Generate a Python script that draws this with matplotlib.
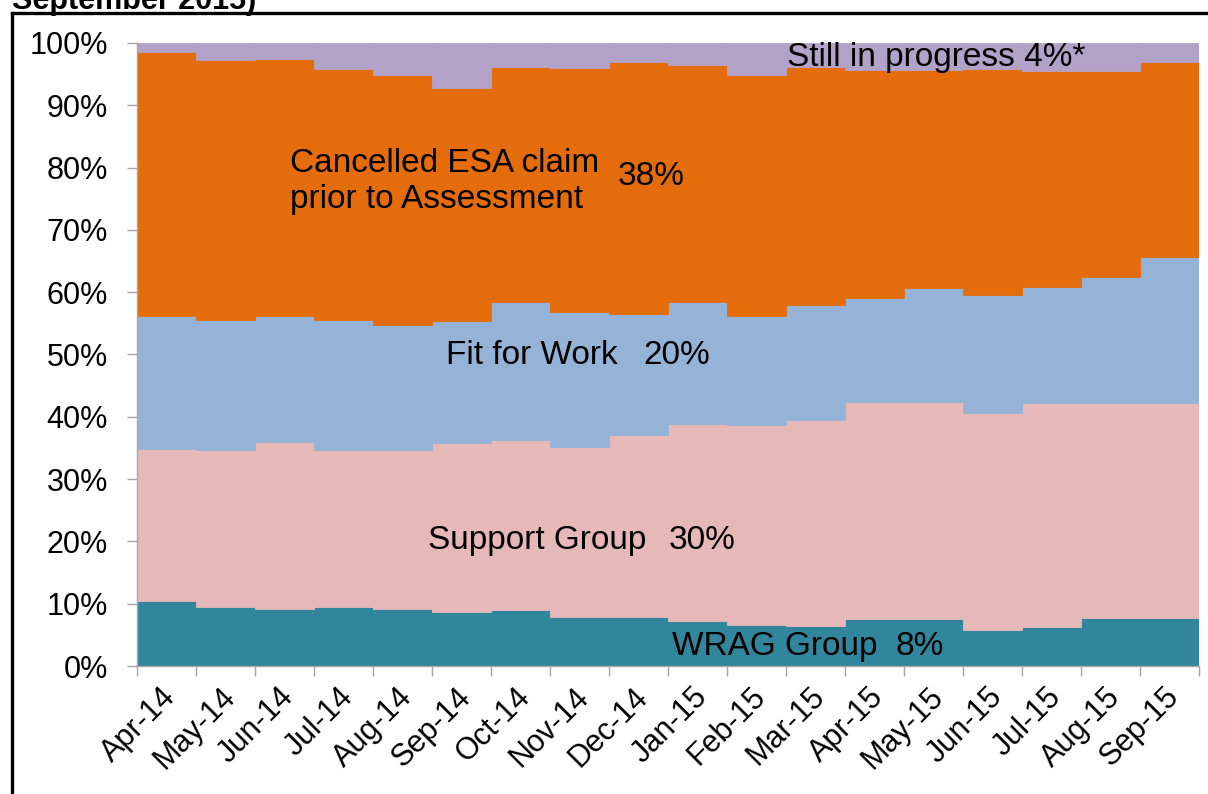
import matplotlib
matplotlib.use("Agg")
import matplotlib.pyplot as plt
from matplotlib.lines import Line2D
from matplotlib.transforms import ScaledTranslation
import numpy as np

plt.rcParams['font.family'] = ['Liberation Sans', 'DejaVu Sans']

# months and shares (%), bottom to top
months = ['Apr-14', 'May-14', 'Jun-14', 'Jul-14', 'Aug-14', 'Sep-14', 'Oct-14',
          'Nov-14', 'Dec-14', 'Jan-15', 'Feb-15', 'Mar-15', 'Apr-15', 'May-15',
          'Jun-15', 'Jul-15', 'Aug-15', 'Sep-15']
wrag = [10.5, 9.5, 9.2, 9.5, 9.2, 8.6, 9.0, 7.9, 7.9, 7.2, 6.6, 6.4, 7.5, 7.5,
        5.7, 6.2, 7.7, 7.7]
support = [24.3, 25.2, 26.7, 25.2, 25.5, 27.2, 27.3, 27.3, 29.1, 31.7, 32.1,
           33.1, 34.9, 34.9, 34.9, 36.0, 34.5, 34.5]
fit_for_work = [21.3, 20.9, 20.2, 20.9, 20.1, 19.6, 22.1, 21.7, 19.5, 19.6,
                17.4, 18.4, 16.6, 18.2, 18.9, 18.7, 20.3, 23.4]
cancelled = [42.5, 41.7, 41.3, 40.3, 40.0, 37.4, 37.7, 39.1, 40.4, 38.0, 38.8,
             38.2, 36.6, 35.0, 36.3, 34.6, 33.0, 31.4]
in_progress = [1.4, 2.7, 2.6, 4.1, 5.2, 7.2, 3.9, 4.0, 3.1, 3.5, 5.1, 3.9, 4.4,
               4.4, 4.2, 4.5, 4.5, 3.0]

series = [wrag, support, fit_for_work, cancelled, in_progress]
colors = ['#31859C', '#E6B9B8', '#95B3D7', '#E46C0A', '#B3A2C7']

GRAY = '#A6A6A6'
FS = 22        # tick labels
FS_ANN = 24    # labels inside the chart

fig = plt.figure(figsize=(12.08, 7.94), dpi=100)
fig.patch.set_facecolor('white')
ax = fig.add_axes([137 / 1208, 1 - 666 / 794, (1199 - 137) / 1208, (666 - 43) / 794])

x = np.arange(len(months))
bottom = np.zeros(len(months))
for vals, col in zip(series, colors):
    vals = np.array(vals)
    ax.bar(x, vals, width=1.0, bottom=bottom, color=col, edgecolor=col,
           linewidth=0.6, zorder=2)
    bottom += vals

ax.set_xlim(-0.5, len(months) - 0.5)
ax.set_ylim(0, 100)

# y axis
ax.set_yticks(np.arange(0, 101, 10))
ax.set_yticklabels([f'{v}%' for v in range(0, 101, 10)], fontsize=FS)
ax.tick_params(axis='y', length=7, width=1, color=GRAY, pad=14)

# x axis: ticks on the boundaries, labels at the centres
ax.set_xticks(x)
ax.set_xticklabels(months, fontsize=FS, rotation=45, ha='right', va='center',
                   rotation_mode='anchor')
ax.set_xticks(np.arange(-0.5, len(months), 1.0), minor=True)
ax.tick_params(axis='x', which='major', length=0, pad=19)
ax.tick_params(axis='x', which='minor', length=7, width=1, color=GRAY)
shift = ScaledTranslation(5 / 100, 0, fig.dpi_scale_trans)
for lbl in ax.get_xticklabels():
    lbl.set_transform(lbl.get_transform() + shift)

for side in ['top', 'right']:
    ax.spines[side].set_visible(False)
for side in ['left', 'bottom']:
    ax.spines[side].set_color(GRAY)
    ax.spines[side].set_linewidth(1)

# in-chart labels
ax.text(10.52, 97.6, 'Still in progress 4%*', fontsize=FS_ANN, va='center', zorder=3)
ax.text(2.09, 77.8, 'Cancelled ESA claim\nprior to Assessment', fontsize=FS_ANN,
        va='center', linespacing=1.2, zorder=3)
ax.text(7.65, 78.5, '38%', fontsize=FS_ANN, va='center', zorder=3)
ax.text(4.74, 49.8, 'Fit for Work', fontsize=FS_ANN, va='center', zorder=3)
ax.text(8.08, 49.8, '20%', fontsize=FS_ANN, va='center', zorder=3)
ax.text(4.43, 20.2, 'Support Group', fontsize=FS_ANN, va='center', zorder=3)
ax.text(8.52, 20.2, '30%', fontsize=FS_ANN, va='center', zorder=3)
ax.text(8.57, 3.2, 'WRAG Group', fontsize=FS_ANN, va='center', zorder=3)
ax.text(12.35, 3.2, '8%', fontsize=FS_ANN, va='center', zorder=3)

# cut-off title and the slide frame
fig.text(12 / 1208, 1 - 9 / 794, 'September 2015)', fontsize=FS,
         fontweight='bold', va='baseline', ha='left')
fig.add_artist(Line2D([12 / 1208, 1.0], [1 - 13 / 794, 1 - 13 / 794],
                      color='black', linewidth=2.4, transform=fig.transFigure))
fig.add_artist(Line2D([12 / 1208, 12 / 1208], [0, 1 - 13 / 794],
                      color='black', linewidth=2.4, transform=fig.transFigure))

fig.savefig('out.png', dpi=100, facecolor='white')
